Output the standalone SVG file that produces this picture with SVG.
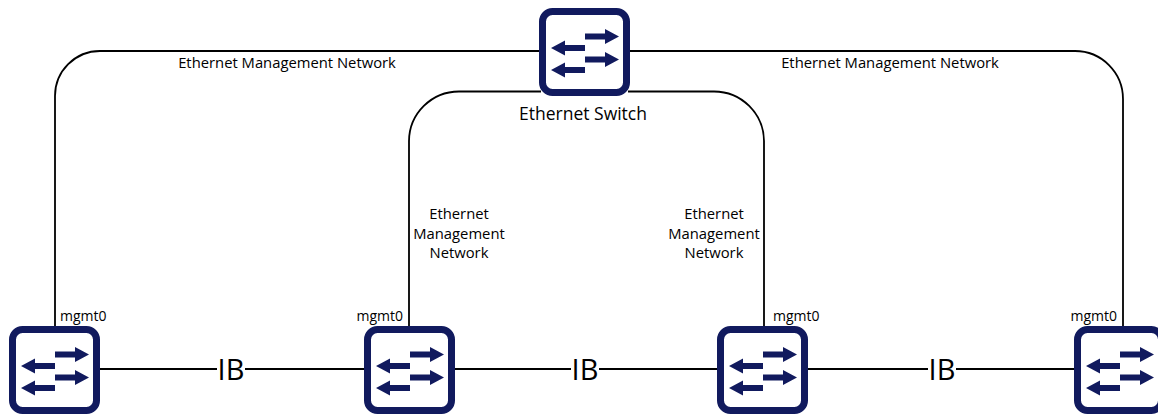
<svg xmlns="http://www.w3.org/2000/svg" xmlns:xlink="http://www.w3.org/1999/xlink" width="1158" height="414" viewBox="0 0 1158 414">
<style>
.ln{fill:none;stroke:#000;stroke-width:1.8}
.box{fill:#fff;stroke:#111a5e;stroke-width:7}
.arr{fill:#111a5e}
.t{font-family:"Open Sans","Noto Sans",sans-serif;fill:#000}
.lbl{font-size:14.8px}
.m{font-size:14px}
.ib{font-size:29px}
.sw{font-size:17.5px}
</style>
<defs>
<g id="switch">
<rect class="box" x="3.5" y="3.5" width="84" height="81" rx="10"/>
<path class="arr" d="M46,25.5 H66 V21 L80,28.5 L66,36 V31.5 H46 Z"/>
<path class="arr" d="M46,48.5 H66 V44 L80,51.5 L66,59 V54.5 H46 Z"/>
<path class="arr" d="M46,37 H26 V32.5 L12,40 L26,47.5 V43 H46 Z"/>
<path class="arr" d="M46,59 H26 V54.5 L12,62 L26,69.5 V65 H46 Z"/>
</g>
</defs>
<rect width="1158" height="414" fill="#fff"/>
<g id="connectors">
<path class="ln" d="M55,326 V96 A45,45 0 0 1 100,51 H541"/>
<path class="ln" d="M628,51 H1075 A48,48 0 0 1 1123,99 V328"/>
<path class="ln" d="M409,326 V141 A50,50 0 0 1 459,91.5 H541"/>
<path class="ln" d="M628,91.5 H714 A50,50 0 0 1 764,141 V326"/>
<path class="ln" d="M99,369 H217 M245,369 H366 M453,369 H571 M599,369 H719 M807,369 H928 M956,369 H1076"/>
<text class="t lbl" x="287" y="68" text-anchor="middle">Ethernet Management Network</text>
<text class="t lbl" x="890" y="68" text-anchor="middle">Ethernet Management Network</text>
<text class="t lbl" text-anchor="middle"><tspan x="459" y="219">Ethernet</tspan><tspan x="459" y="239">Management</tspan><tspan x="459" y="258">Network</tspan></text>
<text class="t lbl" text-anchor="middle"><tspan x="714" y="219">Ethernet</tspan><tspan x="714" y="239">Management</tspan><tspan x="714" y="258">Network</tspan></text>
<text class="t ib" x="231" y="380" text-anchor="middle">IB</text>
<text class="t ib" x="585" y="380" text-anchor="middle">IB</text>
<text class="t ib" x="942" y="380" text-anchor="middle">IB</text>
</g>
<g id="ethernet-switch">
<use xlink:href="#switch" href="#switch" x="539" y="8"/>
<text class="t sw" x="583" y="120" text-anchor="middle">Ethernet Switch</text>
</g>
<g id="switch-1">
<use xlink:href="#switch" href="#switch" x="9" y="326"/>
<text class="t m" x="60" y="321">mgmt0</text>
</g>
<g id="switch-2">
<use xlink:href="#switch" href="#switch" x="364" y="326"/>
<text class="t m" x="403" y="321" text-anchor="end">mgmt0</text>
</g>
<g id="switch-3">
<use xlink:href="#switch" href="#switch" x="717" y="326"/>
<text class="t m" x="773" y="321">mgmt0</text>
</g>
<g id="switch-4">
<use xlink:href="#switch" href="#switch" x="1074" y="326"/>
<text class="t m" x="1117" y="321" text-anchor="end">mgmt0</text>
</g>
</svg>
